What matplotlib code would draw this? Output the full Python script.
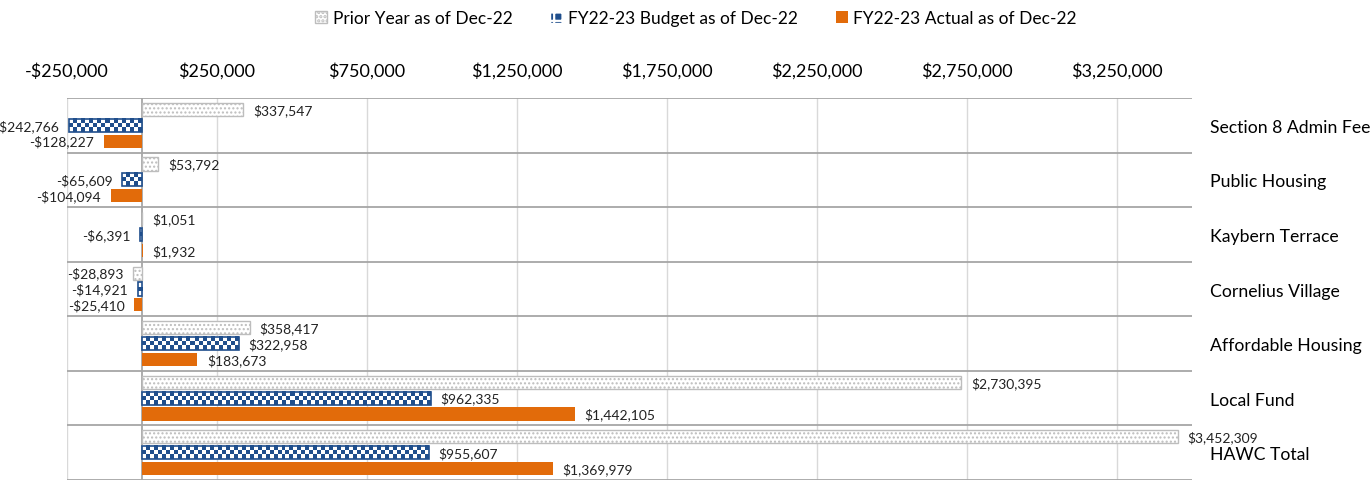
import matplotlib.pyplot as plt
from matplotlib.patches import Patch
from matplotlib.colors import ListedColormap
import numpy as np

plt.rcParams['font.family'] = ['Lato', 'DejaVu Sans']

categories = ['Section 8 Admin Fees', 'Public Housing', 'Kaybern Terrace',
              'Cornelius Village', 'Affordable Housing', 'Local Fund', 'HAWC Total']
prior = [337547, 53792, 1051, -28893, 358417, 2730395, 3452309]
budget = [-242766, -65609, -6391, -14921, 322958, 962335, 955607]
actual = [-128227, -104094, 1932, -25410, 183673, 1442105, 1369979]
series_names = ['Prior Year as of Dec-22', 'FY22-23 Budget as of Dec-22',
                'FY22-23 Actual as of Dec-22']
x_ticks = [-250000, 250000, 750000, 1250000, 1750000, 2250000, 2750000, 3250000]
tick_labels = ['-$250,000', '$250,000', '$750,000', '$1,250,000', '$1,750,000',
               '$2,250,000', '$2,750,000', '$3,250,000']

navy = '#1F4E8C'
orange = '#E26B0A'


def money(v):
    return ('-$' if v < 0 else '$') + f'{abs(v):,.0f}'


fig = plt.figure(figsize=(13.7, 4.81), dpi=100)
ax = fig.add_axes([67/1370, 0, (1192-67)/1370, 382/481])

n = len(categories)
y = np.arange(n)
h = 0.24
off = 0.29
xmin, xmax = -250000, 3500000

# prior year: white with light dots
b1 = ax.barh(y - off, prior, height=h, color='white', edgecolor='#BDBDBD',
             hatch='....', linewidth=1, zorder=3)
# budget: checkerboard fill clipped to each bar
b2 = ax.barh(y, budget, height=h, color='white', linewidth=0, zorder=3)
checker = ListedColormap(['white', navy])
cell_x = 4 / 0.0003          # about 4 px per cell
for p in b2.patches:
    x0, x1 = sorted([p.get_x(), p.get_x() + p.get_width()])
    y0, y1 = p.get_y(), p.get_y() + p.get_height()
    ncol = max(1, int(round((x1 - x0) / cell_x)))
    r, c = np.indices((3, ncol))
    ax.imshow((r + c) % 2, cmap=checker, extent=(x0, x1, y1, y0),
              interpolation='nearest', aspect='auto', clip_path=p, zorder=3.5)
ax.barh(y, budget, height=h, fill=False, edgecolor=navy, linewidth=1.2, zorder=4)
b3 = ax.barh(y + off, actual, height=h, color=orange, linewidth=0, zorder=3)

for bars in (b1, b2, b3):
    ax.bar_label(bars, fmt=money, padding=7, fontsize=10, color='#222222')

ax.set_xlim(xmin, xmax)
ax.set_ylim(n - 0.5, -0.5)

ax.set_xticks(x_ticks)
ax.set_xticklabels(tick_labels)
ax.xaxis.tick_top()
ax.tick_params(axis='x', length=0, pad=14, labelsize=13)

ax.set_yticks(y)
ax.set_yticklabels(categories)
ax.yaxis.tick_right()
ax.tick_params(axis='y', length=0, pad=13, labelsize=12.7)
ax.set_yticks(np.arange(-0.5, n, 1), minor=True)
ax.tick_params(axis='y', which='minor', length=0)

ax.grid(axis='x', which='major', color='#D9D9D9', linewidth=1, zorder=0)
ax.grid(axis='y', which='minor', color='#A6A6A6', linewidth=1.3, zorder=0)
ax.axvline(0, color='#A6A6A6', linewidth=1.3, zorder=2)
for s in ax.spines.values():
    s.set_visible(False)

plt.rcParams['hatch.linewidth'] = 1.6
handles = [
    Patch(facecolor='white', edgecolor='#BDBDBD', hatch='....'),
    Patch(facecolor=navy, edgecolor='white', hatch='++'),
    Patch(facecolor=orange),
]
fig.legend(handles, series_names, loc='upper center', bbox_to_anchor=(0.508, 1.01),
           ncol=3, frameon=False, fontsize=12.5, handlelength=0.7, handleheight=0.7,
           handletextpad=0.3, columnspacing=2.2)

fig.savefig('out.png', dpi=100)
